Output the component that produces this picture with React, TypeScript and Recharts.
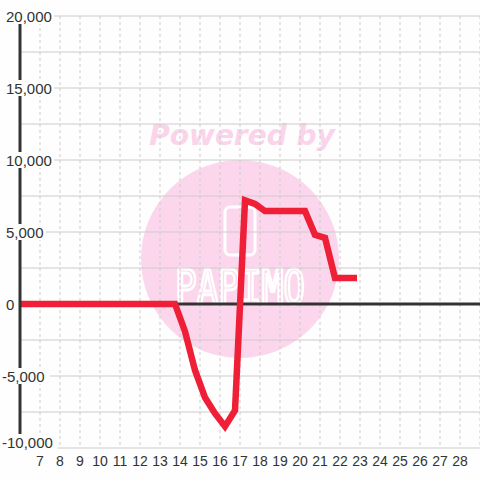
import React from 'react';
import { LineChart, Line, XAxis, YAxis, CartesianGrid, ReferenceLine } from 'recharts';

const xValues = [6, 13.75, 14.25, 14.75, 15.25, 15.75, 16.25, 16.75, 17.25, 17.75, 18.25, 20.25, 20.75, 21.25, 21.75, 22.85];
const yValues = [0, 0, -1900, -4600, -6500, -7600, -8500, -7400, 7200, 6950, 6450, 6450, 4800, 4600, 1800, 1800];
const xTicks = [7, 8, 9, 10, 11, 12, 13, 14, 15, 16, 17, 18, 19, 20, 21, 22, 23, 24, 25, 26, 27, 28];
const yTicks = [-10000, -7500, -5000, -2500, 0, 2500, 5000, 7500, 10000, 12500, 15000, 17500, 20000];
const yLabelTicks = [-10000, -5000, 0, 5000, 10000, 15000, 20000];

const data = xValues.map((x, i) => ({ x, value: yValues[i] }));

const BG = '#fdfefd';
const FONT = '"Liberation Sans", Arial, sans-serif';

function YTick({ y, payload }: any) {
  if (!yLabelTicks.includes(payload.value)) return null;
  const label = payload.value.toLocaleString('en-US');
  const neg = payload.value < 0;
  const left = neg ? 2 : 6;
  const w = label.length * 7.8;
  // bottom label sits a bit above its gridline
  const cy = payload.value === -10000 ? y - 6 : y;
  return (
    <g>
      <rect x={left - 1} y={cy - 8} width={w + 2} height={16} fill={BG} />
      <text x={left} y={cy} textAnchor="start" dominantBaseline="central" fill="#333" fontSize={15} fontFamily={FONT}>
        {label}
      </text>
    </g>
  );
}

function XTick({ x, payload }: any) {
  return (
    <text x={x} y={461} textAnchor="middle" dominantBaseline="central" fill="#333" fontSize={14} fontFamily={FONT}>
      {payload.value}
    </text>
  );
}

function Watermark() {
  return (
    <svg width={480} height={480} style={{ position: 'absolute', left: 0, top: 0 }}>
      <rect width={480} height={480} fill={BG} />
      <text x={242} y={145} textAnchor="middle" fill="#fbd3ea" fontSize={28} fontWeight="bold" fontStyle="italic" fontFamily="'DejaVu Sans', sans-serif">
        Powered by
      </text>
      <circle cx={240} cy={259} r={99} fill="#fcd6ec" />
      <rect x={225} y={207} width={30} height={48} rx={5} fill="none" stroke="#fff" strokeWidth={3} />
      <g transform="translate(240 304) scale(1 1.35)">
        <text x={0} y={0} textAnchor="middle" fill="none" stroke="#fff" strokeWidth={2.2} fontSize={36} fontFamily="'DejaVu Sans Mono', monospace">
          PAPIMO
        </text>
      </g>
    </svg>
  );
}

export default function App() {
  return (
    <div style={{ position: 'absolute', left: 0, top: 0, width: 480, height: 480 }}>
      <Watermark />
      <div style={{ position: 'absolute', left: 0, top: 0 }}>
        <LineChart width={480} height={480} data={data} margin={{ top: 16, right: 0, bottom: 0, left: 0 }}>
          <CartesianGrid vertical={false} stroke="#ccc" strokeWidth={1.2} />
          <CartesianGrid horizontal={false} stroke="#ccc" strokeDasharray="3 3" />
          <XAxis
            dataKey="x"
            type="number"
            domain={[6, 29]}
            ticks={xTicks}
            interval={0}
            axisLine={false}
            tickLine={false}
            height={32}
            tick={<XTick />}
          />
          <YAxis
            type="number"
            domain={[-10000, 20000]}
            ticks={yTicks}
            interval={0}
            width={20}
            axisLine={{ stroke: '#333', strokeWidth: 3 }}
            tickLine={false}
            tick={<YTick />}
          />
          <ReferenceLine y={0} stroke="#333" strokeWidth={3} />
          <Line
            type="linear"
            dataKey="value"
            stroke="#ee1f36"
            strokeWidth={6.5}
            dot={false}
            isAnimationActive={false}
          />
        </LineChart>
      </div>
    </div>
  );
}
